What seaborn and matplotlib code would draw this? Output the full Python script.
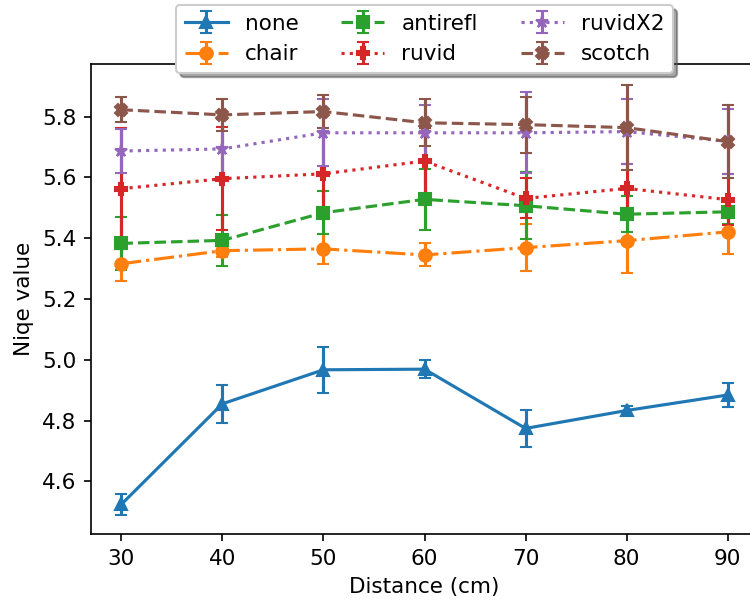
import matplotlib
matplotlib.use("Agg")
import matplotlib.pyplot as plt
import seaborn as sns

# Measurement distances (cm)
distance = [30, 40, 50, 60, 70, 80, 90]

# Mean NIQE value and its error for each condition
none_mean = [4.524, 4.855, 4.967, 4.969, 4.774, 4.833, 4.884]
none_err = [0.035, 0.063, 0.076, 0.030, 0.062, 0.015, 0.039]

chair_mean = [5.316, 5.359, 5.365, 5.345, 5.369, 5.392, 5.421]
chair_err = [0.057, 0.020, 0.049, 0.038, 0.078, 0.108, 0.072]

antirefl_mean = [5.383, 5.393, 5.484, 5.528, 5.507, 5.479, 5.487]
antirefl_err = [0.086, 0.083, 0.070, 0.100, 0.110, 0.060, 0.040]

ruvid_mean = [5.563, 5.596, 5.612, 5.654, 5.531, 5.564, 5.527]
ruvid_err = [0.199, 0.169, 0.140, 0.110, 0.066, 0.080, 0.085]

ruvidx2_mean = [5.687, 5.694, 5.747, 5.747, 5.747, 5.751, 5.719]
ruvidx2_err = [0.073, 0.100, 0.110, 0.090, 0.133, 0.107, 0.106]

scotch_mean = [5.823, 5.806, 5.817, 5.780, 5.774, 5.764, 5.718]
scotch_err = [0.042, 0.053, 0.054, 0.077, 0.092, 0.140, 0.120]

series_names = ["none", "chair", "antirefl", "ruvid", "ruvidX2", "scotch"]
series_means = [none_mean, chair_mean, antirefl_mean, ruvid_mean, ruvidx2_mean, scotch_mean]
series_errs = [none_err, chair_err, antirefl_err, ruvid_err, ruvidx2_err, scotch_err]
markers = ["^", "o", "s", "P", "*", "X"]
linestyles = ["-", "-.", "--", ":", ":", "--"]

sns.set_palette("tab10")
palette = sns.color_palette("tab10")
plt.rcParams["font.size"] = 10.3

fig = plt.figure(figsize=(5, 604 / 150), dpi=150)
ax = fig.add_axes([91 / 750, (604 - 534.3) / 604, 667 / 750, 470 / 604])

for i, (name, mean, err) in enumerate(zip(series_names, series_means, series_errs)):
    ax.errorbar(distance, mean, yerr=err, label=name, color=palette[i],
                marker=markers[i], linestyle=linestyles[i], capsize=3)

ax.set_xlim(27, 93)
ax.set_ylim(4.4255, 5.9725)
ax.set_xticks(distance)
ax.set_yticks([4.6, 4.8, 5.0, 5.2, 5.4, 5.6, 5.8])
ax.set_xlabel("Distance (cm)")
ax.set_ylabel("Niqe value")

ax.legend(loc="upper center", bbox_to_anchor=(0.5, 1.126), borderaxespad=0,
          ncol=3, fancybox=True, shadow=True)

fig.savefig("out.png", dpi=150)
